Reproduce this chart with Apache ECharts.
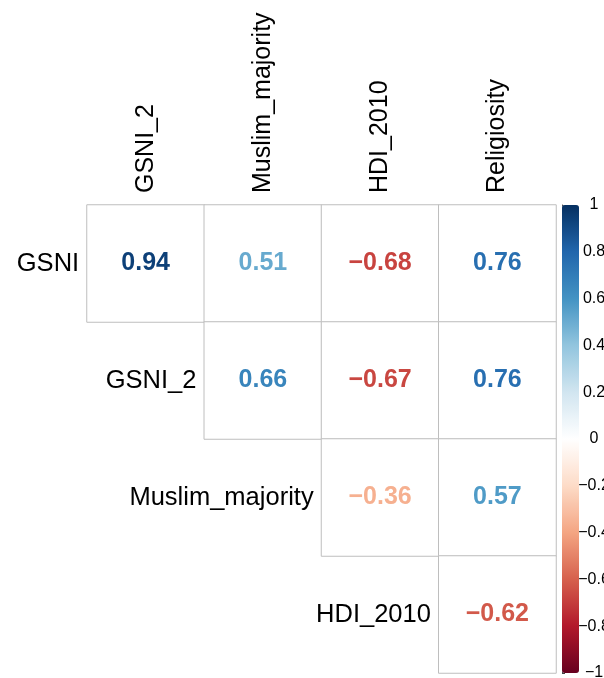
<!DOCTYPE html>
<html>
<head>
<meta charset="utf-8">
<script src="https://cdn.jsdelivr.net/npm/echarts@6/dist/echarts.min.js"></script>
<style>
  html, body { margin: 0; padding: 0; background: #fff; }
  #chart { width: 604px; height: 678px; }
</style>
</head>
<body>
<div id="chart"></div>
<script>
var colNames = ['GSNI_2', 'Muslim_majority', 'HDI_2010', 'Religiosity'];
var rowNames = ['GSNI', 'GSNI_2', 'Muslim_majority', 'HDI_2010'];
// upper triangle, one array per row, starting at column = row index
var corrGSNI = [0.94, 0.51, -0.68, 0.76];
var corrGSNI2 = [0.66, -0.67, 0.76];
var corrMuslim = [-0.36, 0.57];
var corrHDI = [-0.62];
var palette = ['#67001F', '#B2182B', '#D6604D', '#F4A582', '#FDDBC7', '#FFFFFF',
               '#D1E5F0', '#92C5DE', '#4393C3', '#2166AC', '#053061'];

var font = 'Liberation Sans, Arial, Helvetica, sans-serif';
var rowsVals = [corrGSNI, corrGSNI2, corrMuslim, corrHDI];
var cells = [];
rowsVals.forEach(function (vals, r) {
    vals.forEach(function (v, k) {
        cells.push([r + k, r, v]);
    });
});
var diagLabels = rowNames.map(function (n, r) {
    return { value: [r, r], name: n };
});

function fmt(v) {
    return (v < 0 ? '\u2212' : '') + Math.abs(v).toFixed(2);
}

var chart = echarts.init(document.getElementById('chart'));
chart.setOption({
    animation: false,
    textStyle: { fontFamily: font },
    grid: [
        { left: 87, top: 205, width: 469, height: 468, outerBoundsMode: 'none', containLabel: false },
        { left: 562, top: 205, width: 17, height: 468, outerBoundsMode: 'none', containLabel: false }
    ],
    xAxis: [
        {
            type: 'category', data: colNames, position: 'top',
            axisLine: { show: false }, axisTick: { show: false }, splitLine: { show: false },
            axisLabel: { rotate: -90, margin: 12, fontSize: 25, color: '#000', fontFamily: font }
        },
        { gridIndex: 1, type: 'value', show: false }
    ],
    yAxis: [
        { type: 'category', data: rowNames, inverse: true, show: false },
        {
            gridIndex: 1, type: 'value', min: -1, max: 1, interval: 0.2, position: 'right',
            splitLine: { show: false },
            axisLine: { show: true, lineStyle: { color: '#444', width: 1 } },
            axisTick: { show: true, length: 3, lineStyle: { color: '#444' } },
            axisLabel: {
                margin: 15, align: 'center', fontSize: 16, color: '#000', fontFamily: font,
                hideOverlap: false,
                formatter: function (v) {
                    var a = Math.abs(+v.toFixed(1));
                    return (v < -1e-9 ? '\u2212' : '') + a;
                }
            }
        }
    ],
    visualMap: {
        type: 'continuous', min: -1, max: 1, seriesIndex: 1, dimension: 2,
        orient: 'vertical', left: 562, top: 205, itemWidth: 17, itemHeight: 468,
        padding: 0, calculable: false, text: null, showLabel: false, z: 1,
        inRange: { color: palette }
    },
    series: [
        {
            type: 'heatmap', data: cells, silent: true,
            itemStyle: { color: '#fff', borderColor: '#bebebe', borderWidth: 1 }
        },
        {
            type: 'scatter', data: cells, symbolSize: 0, silent: true,
            itemStyle: { opacity: 1 },
            label: {
                show: true, position: 'inside', fontSize: 25, fontWeight: 'bold',
                color: 'inherit', fontFamily: font,
                formatter: function (p) { return fmt(p.value[2]); }
            }
        },
        {
            type: 'scatter', data: diagLabels, symbolSize: 117, silent: true,
            itemStyle: { color: 'rgba(0,0,0,0)', opacity: 1 },
            label: {
                show: true, position: 'left', distance: 8, fontSize: 25.5, color: '#000',
                fontFamily: font, formatter: '{b}'
            }
        }
    ]
});
</script>
</body>
</html>
